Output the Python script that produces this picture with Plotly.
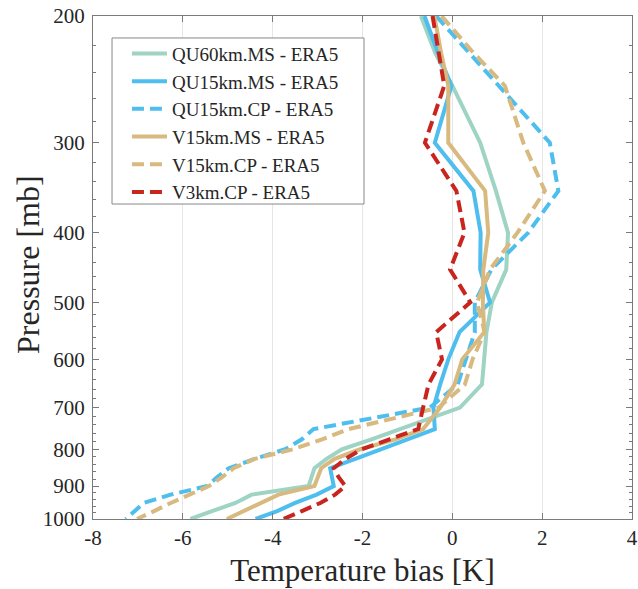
import numpy as np
import plotly.graph_objects as go

# Pressure levels (mb)
levels = [200, 225, 250, 300, 350, 400, 450, 500, 550, 600, 650, 700,
          750, 775, 800, 825, 850, 875, 900, 925, 950, 975, 1000]

# Temperature bias (K) per experiment
qu60_ms = [-0.70, -0.38, 0.00, 0.62, 0.97, 1.24, 1.20, 0.88, 0.76, 0.71, 0.66, 0.17,
           -1.15, -1.80, -2.46, -2.80, -3.07, -3.14, -3.20, -4.47, -4.83, -5.35, -5.83]
qu15_ms = [-0.62, -0.32, -0.02, -0.39, 0.47, 0.63, 0.62, 0.84, 0.16, -0.09, -0.27, -0.42,
           -0.39, -0.98, -1.57, -2.16, -2.72, -2.68, -2.64, -3.02, -3.50, -3.90, -4.38]
qu15_cp = [-0.36, 0.38, 1.04, 2.17, 2.36, 1.69, 0.87, 0.50, 0.50, 0.30, 0.12, -0.50,
           -3.09, -3.35, -3.72, -4.40, -4.98, -5.24, -5.46, -6.27, -6.87, -7.07, -7.27]
v15_ms = [-0.40, -0.25, -0.09, -0.09, 0.73, 0.80, 0.69, 0.68, 0.71, 0.22, 0.05, -0.27,
          -0.65, -1.27, -2.05, -2.62, -2.92, -3.00, -3.07, -3.87, -4.27, -4.64, -5.02]
v15_cp = [-0.24, 0.47, 1.17, 1.58, 2.06, 1.45, 0.84, 0.55, 0.72, 0.45, 0.28, -0.30,
          -2.31, -2.90, -3.55, -4.40, -4.87, -5.13, -5.42, -5.87, -6.27, -6.64, -7.02]
v3_cp = [-0.44, -0.30, -0.18, -0.61, 0.09, 0.27, -0.05, 0.40, -0.36, -0.23, -0.53, -0.65,
         -0.76, -1.40, -2.02, -2.38, -2.64, -2.53, -2.38, -2.61, -2.94, -3.35, -3.76]

names = ["QU60km.MS - ERA5", "QU15km.MS - ERA5", "QU15km.CP - ERA5",
         "V15km.MS - ERA5", "V15km.CP - ERA5", "V3km.CP - ERA5"]
series = [qu60_ms, qu15_ms, qu15_cp, v15_ms, v15_cp, v3_cp]
colors = ["#9fd3c4", "#4dbeee", "#4dbeee", "#d8b97f", "#d8b97f", "#c9251f"]
dashes = ["solid", "solid", "12px,6px", "solid", "12px,6px", "12px,6px"]

x_ticks = [-8, -6, -4, -2, 0, 2, 4]
x_ticklabels = ["-8", "-6", "-4", "-2", "0", "2", "4"]
y_ticks = [200, 300, 400, 500, 600, 700, 800, 900, 1000]
y_ticklabels = ["200", "300", "400", "500", "600", "700", "800", "900", "1000"]
y_minor = [v for v in range(220, 1000, 20) if v % 100 != 0]

fig = go.Figure()
for name, vals, c, d in zip(names, series, colors, dashes):
    fig.add_trace(go.Scatter(x=vals, y=levels, mode="lines", name=name,
                             line=dict(color=c, width=4, dash=d)))

font_family = "Liberation Serif"
axis_col = "#7a7a7a"
txt_col = "#262626"

# legend frame (paper coordinates)
fig.add_shape(type="rect", xref="paper", yref="paper",
              x0=0.0353, x1=0.5028, y0=0.6262, y1=0.9563,
              line=dict(color="#888888", width=1), fillcolor="white", layer="above")

# y-axis title as rotated annotation
fig.add_annotation(text="Pressure [mb]", xref="paper", yref="paper",
                   x=-0.1206, y=0.507, xanchor="center", yanchor="middle",
                   textangle=-90, showarrow=False,
                   font=dict(size=32, family=font_family, color=txt_col))

fig.update_layout(
    width=638, height=589,
    margin=dict(l=93, r=6, t=16, b=70, autoexpand=False),
    paper_bgcolor="white", plot_bgcolor="white",
    font=dict(family=font_family, color=txt_col),
    showlegend=True,
    legend=dict(x=0.063, y=0.963, xanchor="left", yanchor="top",
                bgcolor="rgba(0,0,0,0)", borderwidth=0,
                font=dict(family=font_family, size=19, color=txt_col),
                itemwidth=35),
    xaxis=dict(range=[-8, 4], tickmode="array", tickvals=x_ticks, ticktext=x_ticklabels,
               ticks="inside", ticklen=6, tickcolor=axis_col, automargin=False,
               showline=True, linecolor=axis_col, linewidth=1, mirror="ticks",
               showgrid=True, gridcolor="#e6e6e6", gridwidth=1, zeroline=False,
               tickfont=dict(size=21, family=font_family, color=txt_col),
               title=dict(text="Temperature bias [K]", standoff=10,
                          font=dict(size=31, family=font_family, color=txt_col))),
    yaxis=dict(type="log", range=[np.log10(1000), np.log10(200)],
               tickmode="array", tickvals=y_ticks, ticktext=y_ticklabels,
               ticks="inside", ticklen=6, tickcolor=axis_col, automargin=False,
               ticklabelstandoff=3,
               minor=dict(tickmode="array", tickvals=y_minor, ticks="inside",
                          ticklen=3, tickcolor=axis_col, showgrid=False),
               showline=True, linecolor=axis_col, linewidth=1, mirror="ticks",
               showgrid=False, zeroline=False,
               tickfont=dict(size=21, family=font_family, color=txt_col)),
)

fig.write_html("out.html", config={"displayModeBar": False},
               post_script="document.body.style.margin='0';")
